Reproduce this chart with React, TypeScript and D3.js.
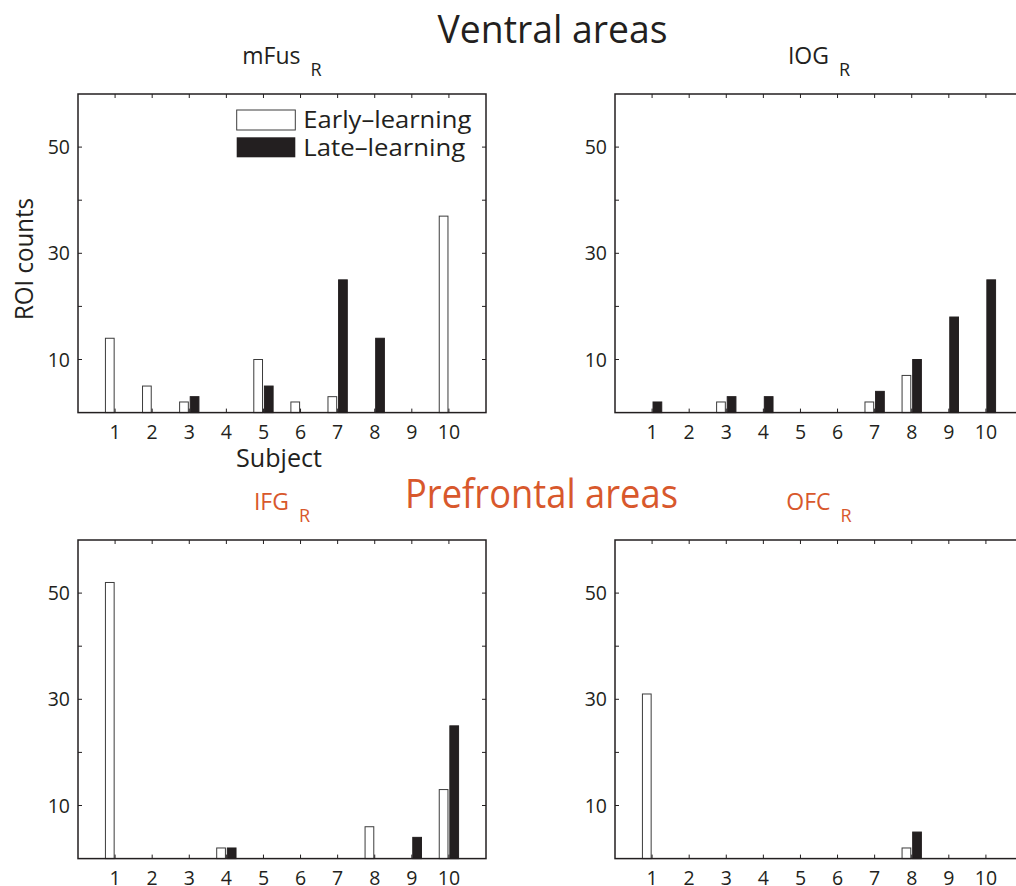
import React from "react";
import * as d3 from "d3";

const subjects = [1, 2, 3, 4, 5, 6, 7, 8, 9, 10];
const yTicks = [10, 20, 30, 40, 50];
const yTickLabels = [10, 30, 50];

const mFusEarly = [14, 5, 2, 0, 10, 2, 3, 0, 0, 37];
const mFusLate = [0, 0, 3, 0, 5, 0, 25, 14, 0, 0];
const iogEarly = [0, 0, 2, 0, 0, 0, 2, 7, 0, 0];
const iogLate = [2, 0, 3, 3, 0, 0, 4, 10, 18, 25];
const ifgEarly = [52, 0, 0, 2, 0, 0, 0, 6, 0, 13];
const ifgLate = [0, 0, 0, 2, 0, 0, 0, 0, 4, 25];
const ofcEarly = [31, 0, 0, 0, 0, 0, 0, 2, 0, 0];
const ofcLate = [0, 0, 0, 0, 0, 0, 0, 5, 0, 0];

const panelNames = ["mFus", "IOG", "IFG", "OFC"];
const seriesNames = ["Early\u2013learning", "Late\u2013learning"];
const groupTitles = ["Ventral areas", "Prefrontal areas"];

const INK = "#231f20";
const ORANGE = "#d8582c";
const FONT = "'Open Sans', 'DejaVu Sans', sans-serif";

const panels = [
  { name: panelNames[0], early: mFusEarly, late: mFusLate, left: 78, top: 94, color: INK, labels: true, legend: true },
  { name: panelNames[1], early: iogEarly, late: iogLate, left: 615, top: 94, color: INK, labels: false, legend: false },
  { name: panelNames[2], early: ifgEarly, late: ifgLate, left: 78, top: 540, color: ORANGE, labels: false, legend: false },
  { name: panelNames[3], early: ofcEarly, late: ofcLate, left: 615, top: 540, color: ORANGE, labels: false, legend: false },
];

const PW = 408;
const PH = 318.6;
const BAR_W = 0.235;
const OFF = 0.143;

function Panel({ p }: { p: (typeof panels)[number] }) {
  const x = d3.scaleLinear().domain([0, 11]).range([p.left, p.left + PW]);
  const y = d3.scaleLinear().domain([0, 60]).range([p.top + PH, p.top]);
  const bw = x(BAR_W) - x(0);
  const tl = 4;
  const cx = p.left + PW / 2;
  return (
    <g>
      <text x={cx} y={p.top - 30} textAnchor="middle" fontFamily={FONT} fontSize={23} fill={p.color}>
        {p.name}
        <tspan fontSize={18} dx={10} dy={12}>R</tspan>
      </text>
      {subjects.map((s, i) => (
        <g key={s}>
          {p.early[i] > 0 && (
            <rect
              x={x(s - OFF) - bw / 2}
              y={y(p.early[i])}
              width={bw}
              height={y(0) - y(p.early[i])}
              fill="#ffffff"
              stroke="#3c3c3c"
              strokeWidth={1}
            />
          )}
          {p.late[i] > 0 && (
            <rect
              x={x(s + OFF) - bw / 2}
              y={y(p.late[i])}
              width={bw}
              height={y(0) - y(p.late[i])}
              fill={INK}
              stroke={INK}
              strokeWidth={1}
            />
          )}
        </g>
      ))}
      <rect x={p.left} y={p.top} width={PW} height={PH} fill="none" stroke={INK} strokeWidth={1.5} />
      {subjects.map((s) => (
        <g key={"xt" + s}>
          <line x1={x(s)} x2={x(s)} y1={y(0)} y2={y(0) - tl} stroke={INK} strokeWidth={1} />
          <line x1={x(s)} x2={x(s)} y1={y(60)} y2={y(60) + tl} stroke={INK} strokeWidth={1} />
          <text x={x(s)} y={y(0) + 26} textAnchor="middle" fontFamily={FONT} fontSize={19.5} fill={INK}>
            {s}
          </text>
        </g>
      ))}
      {yTicks.map((t) => (
        <g key={"yt" + t}>
          <line x1={p.left} x2={p.left + tl} y1={y(t)} y2={y(t)} stroke={INK} strokeWidth={1} />
          <line x1={p.left + PW} x2={p.left + PW - tl} y1={y(t)} y2={y(t)} stroke={INK} strokeWidth={1} />
        </g>
      ))}
      {yTickLabels.map((t) => (
        <text key={"yl" + t} x={p.left - 8} y={y(t) + 7} textAnchor="end" fontFamily={FONT} fontSize={19.5} fill={INK}>
          {t}
        </text>
      ))}
      {p.labels && (
        <>
          <text x={cx - 3} y={y(0) + 54} textAnchor="middle" fontFamily={FONT} fontSize={25} fill={INK} textLength={86} lengthAdjust="spacingAndGlyphs">
            Subject
          </text>
          <text transform={`translate(33,259) rotate(-90)`} textAnchor="middle" fontFamily={FONT} fontSize={25} fill={INK} textLength={122} lengthAdjust="spacingAndGlyphs">
            ROI counts
          </text>
        </>
      )}
      {p.legend && (
        <g>
          <rect x={236.7} y={110} width={58.6} height={20} fill="#fff" stroke="#3c3c3c" strokeWidth={1} />
          <rect x={236.7} y={137.3} width={58.6} height={20} fill={INK} />
          <text x={303.3} y={128.3} fontFamily={FONT} fontSize={23.5} fill={INK} textLength={168} lengthAdjust="spacingAndGlyphs">
            {seriesNames[0]}
          </text>
          <text x={303.3} y={155.5} fontFamily={FONT} fontSize={23.5} fill={INK} textLength={162} lengthAdjust="spacingAndGlyphs">
            {seriesNames[1]}
          </text>
        </g>
      )}
    </g>
  );
}

export default function App() {
  return (
    <svg
      width={1016}
      height={886}
      style={{ position: "absolute", left: 0, top: 0, background: "#fff", display: "block" }}
    >
      <rect x={0} y={0} width={1016} height={886} fill="#fff" />
      <text x={437.6} y={43} fontFamily={FONT} fontSize={39} fill={INK} textLength={230} lengthAdjust="spacingAndGlyphs">
        {groupTitles[0]}
      </text>
      <text x={405} y={507.7} fontFamily={FONT} fontSize={41} fill={ORANGE} textLength={273} lengthAdjust="spacingAndGlyphs">
        {groupTitles[1]}
      </text>
      {panels.map((p) => (
        <Panel key={p.name} p={p} />
      ))}
    </svg>
  );
}
